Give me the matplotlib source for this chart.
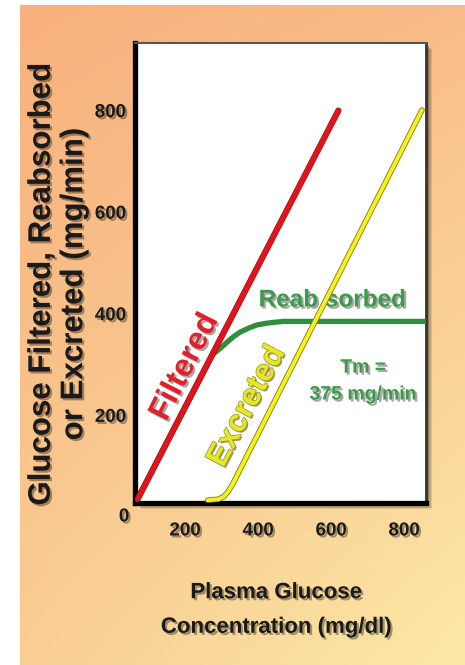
import numpy as np
import matplotlib
matplotlib.use("Agg")
import matplotlib.pyplot as plt
from matplotlib import patheffects as pe
from matplotlib.patches import Rectangle

# ---------------- data ----------------
filtered_x = [70, 620]
filtered_y = [35, 800]

reab_x = [70, 276, 290, 300, 315, 333, 351, 375, 397, 420, 441, 470, 860]
reab_y = [35, 320, 328, 334, 344, 355, 364, 372, 378, 381, 383, 385, 385]

excr_x = [262, 292, 306, 318, 330, 849]
excr_y = [33, 35, 40, 50, 64, 801]

x_ticks = [200, 400, 600, 800]
y_ticks = [200, 400, 600, 800]
tm_value = 375

# ---------------- figure ----------------
W, H = 465, 665
plt.rcParams['font.family'] = ['Liberation Sans', 'DejaVu Sans']
plt.rcParams['font.weight'] = 'bold'

fig = plt.figure(figsize=(W / 100, H / 100), dpi=100)
fig.patch.set_facecolor('white')

# gradient background
bg = fig.add_axes([20 / W, 0, 1 - 20 / W, 1 - 5 / H], zorder=0)
tl = np.array([248, 176, 124]) / 255
tr = np.array([249, 188, 136]) / 255
bl = np.array([249, 206, 148]) / 255
br = np.array([252, 233, 166]) / 255
u = np.linspace(0, 1, 200)[None, :, None]
v = np.linspace(0, 1, 300)[:, None, None]
grad = (1 - v) * ((1 - u) * tl + u * tr) + v * ((1 - u) * bl + u * br)
bg.imshow(grad, aspect='auto', extent=[0, 1, 0, 1], interpolation='bilinear')
bg.axis('off')

# axes
ax_rect = [135 / W, (H - 503) / H, 291 / W, 460 / H]
for k, a in [(6, 0.10), (4.5, 0.15), (3, 0.25)]:
    fig.patches.append(Rectangle((ax_rect[0] + k / W, ax_rect[1] - k / H), ax_rect[2], ax_rect[3],
                                 transform=fig.transFigure, facecolor='black', alpha=a,
                                 edgecolor='none', zorder=1))
ax = fig.add_axes(ax_rect, zorder=2)
ax.set_facecolor('white')
ax.set_xlim(63, 860)
ax.set_ylim(27.5, 933)

shadow = [pe.withSimplePatchShadow(offset=(1.5, -1.5), shadow_rgbFace='black', alpha=0.35)]

ax.plot(reab_x, reab_y, color='#2f8f3c', lw=3.8, solid_capstyle='round', solid_joinstyle='round', zorder=3)
ax.plot(filtered_x, filtered_y, color='#e0141c', lw=3.6, solid_capstyle='round', zorder=4,
        path_effects=[pe.Stroke(linewidth=4.4, foreground='#9a0a10'), pe.Normal()])
ax.plot(excr_x, excr_y, color='#f4f21c', lw=2.8, solid_capstyle='round', solid_joinstyle='round', zorder=6,
        path_effects=[pe.Stroke(linewidth=4.0, foreground='#7c7a10'), pe.Normal()])

# spines
for s in ['left', 'bottom']:
    ax.spines[s].set_linewidth(3.8)
    ax.spines[s].set_color('black')
ax.spines['top'].set_linewidth(1.5)
ax.spines['top'].set_color('#555555')
ax.spines['right'].set_linewidth(2)
ax.spines['right'].set_color('#333333')

ax.set_xticks(x_ticks)
ax.set_yticks(y_ticks)
ax.set_xticklabels([str(t) for t in x_ticks])
ax.set_yticklabels([str(t) for t in y_ticks])
ax.tick_params(axis='both', length=0, labelsize=13.5, colors='#1a1a1a')
ax.tick_params(axis='x', pad=14)
ax.tick_params(axis='y', pad=6.5)
for lab in ax.get_xticklabels() + ax.get_yticklabels():
    lab.set_fontweight('bold')
    lab.set_path_effects(shadow)
ax.text(33, 0, '0', fontsize=13.5, fontweight='bold', color='#1a1a1a', ha='center', va='center',
        clip_on=False, path_effects=shadow)

# annotations
ax.text(200, 295, 'Filtered', color='#e0202a', fontsize=23, fontweight='bold', rotation=63,
        ha='center', va='center', rotation_mode='anchor', zorder=5, path_effects=shadow)
ax.text(370, 218, 'Excreted', color='#e8e62a', fontsize=22.5, fontweight='bold', rotation=62,
        ha='center', va='center', rotation_mode='anchor', zorder=5,
        path_effects=[pe.withSimplePatchShadow(offset=(1.2, -1.2), shadow_rgbFace='#555500', alpha=0.6),
                      pe.Stroke(linewidth=1.0, foreground='#9a9820'), pe.Normal()])
ax.text(603, 427, 'Reab sorbed', color='#3c9a48', fontsize=17.5, fontweight='bold',
        ha='center', va='center', zorder=5, path_effects=shadow)
ax.text(688, 293, 'Tm =', color='#3c9a48', fontsize=14, fontweight='bold',
        ha='center', va='center', zorder=5, path_effects=shadow)
ax.text(688, 240, f'{tm_value} mg/min', color='#3c9a48', fontsize=14, fontweight='bold',
        ha='center', va='center', zorder=5, path_effects=shadow)

# axis titles
fig.text(58 / W, 1 - 284 / H, 'Glucose Filtered, Reabsorbed\nor Excreted (mg/min)',
         rotation=90, ha='center', va='center', multialignment='center', fontsize=22.5,
         fontweight='bold', color='#1a1a1a', linespacing=1.1, path_effects=shadow, zorder=3)
fig.text(276 / W, 1 - 610 / H, 'Plasma Glucose\nConcentration (mg/dl)',
         ha='center', va='center', multialignment='center', fontsize=16,
         fontweight='bold', color='#1a1a1a', linespacing=1.85, path_effects=shadow, zorder=3)

fig.savefig('out.png', dpi=100)
